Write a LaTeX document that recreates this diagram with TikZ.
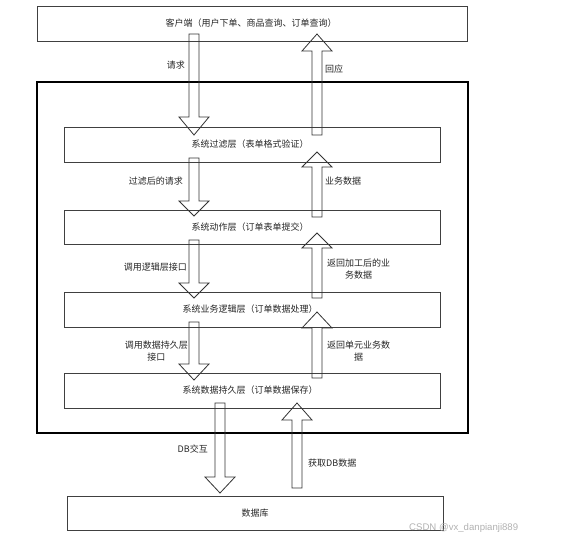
\documentclass[tikz,border=0pt]{standalone}
\usepackage{fontspec}
\setmainfont{Noto Sans CJK SC}
\newfontfamily\wmfont{Liberation Sans}
\begin{document}
\begin{tikzpicture}[x=1pt,y=-1pt,
  layerbox/.style={draw=black!75,line width=0.8pt},
  blk/.style={draw=black!80,line width=0.8pt},
  lbl/.style={font=\fontsize{9}{11.5}\selectfont,text=black!85,inner sep=0pt,align=center},
  boxtext/.style={font=\fontsize{9}{11}\selectfont,text=black!85,inner sep=0pt}]
\useasboundingbox (0,0) rectangle (568,540);
\fill[white] (0,0) rectangle (568,540);
\newcommand\dnblk[4]{% x, top, base, tip
  \draw[blk] (#1-5,#2) -- (#1+5,#2) -- (#1+5,#3) -- (#1+15,#3) -- (#1,#4) -- (#1-15,#3) -- (#1-5,#3) -- cycle;}
\newcommand\upblk[4]{% x, tip, base, bottom
  \draw[blk] (#1,#2) -- (#1+15,#3) -- (#1+5,#3) -- (#1+5,#4) -- (#1-5,#4) -- (#1-5,#3) -- (#1-15,#3) -- cycle;}
% boxes
\draw[layerbox] (37,6) rectangle (467,41) node[boxtext] (client) at (251,23.5) {客户端（用户下单、商品查询、订单查询）};
\draw[line width=2.6pt] (37,82) rectangle (468,433);
\coordinate (outer) at (252,257);
\draw[layerbox] (64,127) rectangle (440,162) node[boxtext] (filter) at (250,144.5) {系统过滤层（表单格式验证）};
\draw[layerbox] (64,210) rectangle (440,244) node[boxtext] (action) at (250,227) {系统动作层（订单表单提交）};
\draw[layerbox] (64,292) rectangle (440,327) node[boxtext] (logic) at (250,309.5) {系统业务逻辑层（订单数据处理）};
\draw[layerbox] (64,373) rectangle (440,408) node[boxtext] (persist) at (250,390.5) {系统数据持久层（订单数据保存）};
\draw[layerbox] (67,496) rectangle (443,530) node[boxtext] (db) at (255,513) {数据库};
% arrows
\dnblk{194}{34}{117}{135}
\dnblk{194}{158}{201}{216}
\dnblk{194}{240}{283}{298}
\dnblk{194}{322}{364}{380}
\dnblk{220}{403}{477}{493}
\upblk{317}{34}{51}{135}
\upblk{317}{152}{167}{217}
\upblk{317}{233}{248}{298}
\upblk{317}{312}{328}{378}
\upblk{297}{403}{420}{488}
% labels
\node[lbl,anchor=east] (l1) at (185,65) {请求};
\node[lbl,anchor=west] (r1) at (325,69) {回应};
\node[lbl,anchor=east] (l2) at (183,181) {过滤后的请求};
\node[lbl,anchor=east] (l3) at (187,267) {调用逻辑层接口};
\node[lbl,anchor=west] (r2) at (325,181) {业务数据};
\node[lbl,anchor=west] (r3) at (327,269) {返回加工后的业\\务数据};
\node[lbl,anchor=east] (l4) at (188,351) {调用数据持久层\\接口};
\node[lbl,anchor=west] (r4) at (327,351) {返回单元业务数\\据};
\node[lbl,anchor=east] (l5) at (208,449) {DB交互};
\node[lbl,anchor=west] (r5) at (308,463) {获取DB数据};
\node[font=\wmfont\fontsize{9.6}{11}\selectfont,text=black!30,inner sep=0pt,anchor=west] (wm) at (409,528) {CSDN @vx\_danpianji889};
\end{tikzpicture}
\end{document}
